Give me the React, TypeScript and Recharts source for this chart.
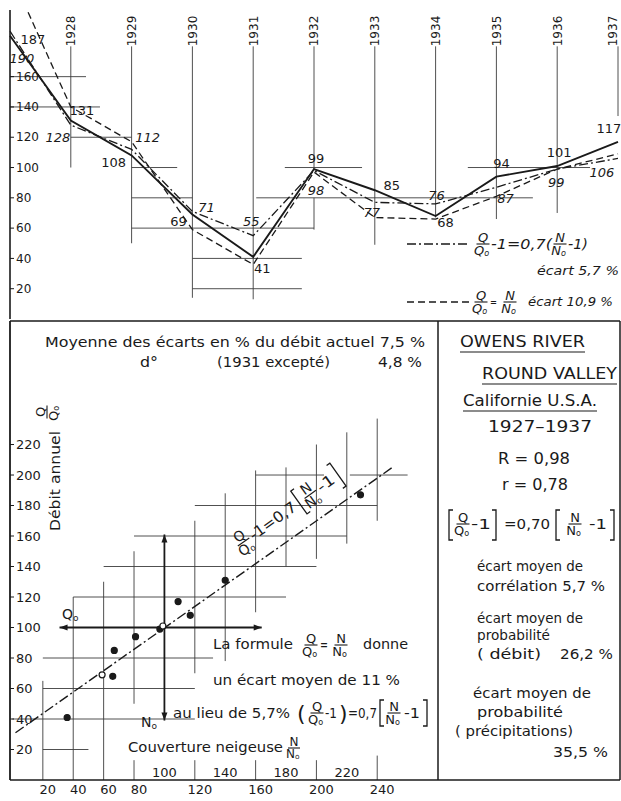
import React from "react";
import {
  LineChart,
  Line,
  XAxis,
  YAxis,
  ReferenceLine,
  LabelList,
  ComposedChart,
  Scatter,
} from "recharts";

const FONT = '"DejaVu Sans", sans-serif';
const INK = "#1a1a1a";
const GRID = "#3c3c3c";

// --- top panel: Q/Q0 (%) per year ---
const years = [1927, 1928, 1929, 1930, 1931, 1932, 1933, 1934, 1935, 1936, 1937];
const actual = [187, 131, 108, 69, 41, 99, 85, 68, 94, 101, 117];
const formula = [190, 128, 112, 71, 55, 98, 77, 76, 87, 99, 106];
const snowRatio = [229, 140, 117, 59, 36, 97, 67, 66, 81, 99, 109];
const yearTicks = [1928, 1929, 1930, 1931, 1932, 1933, 1934, 1935, 1936, 1937];
const topYTicks = [20, 40, 60, 80, 100, 120, 140, 160];

// where each value label sits relative to its point (px)
const actualLabelOffset = [
  [23, 4], [11, -10], [-18, 7], [-14, 7], [9, 11], [2, -11],
  [17, -5], [10, 6], [5, -13], [2, -14], [-9, -13],
];
const formulaLabelOffset = [
  [12, 27], [-13, 12], [16, -12], [14, -4], [-2, -14], [2, 20],
  [-3, 10], [1, -9], [9, 11], [-1, 13], [-16, 14],
];

// hand-drawn guide lines: [value, fromYear, toYear] and [year, fromValue, toValue]
const topHLines = [
  [160, 1927, 1928.25], [140, 1927, 1928.48], [120, 1928, 1929],
  [100, 1929, 1929.75], [100, 1931.52, 1932.79], [100, 1934.53, 1936.54],
  [80, 1929, 1930], [80, 1931.05, 1935.6], [60, 1929, 1932],
  [40, 1930, 1931.8], [20, 1930, 1931.8],
];
const topVLines = [
  [1928, 180, 100], [1929, 180, 50], [1930, 180, 14], [1931, 180, 13],
  [1932, 180, 99], [1932, 80, 59], [1933, 180, 49], [1934, 180, 67],
  [1935, 180, 66], [1936, 180, 70], [1937, 180, 134],
];

// --- bottom panel: Q/Q0 against N/N0 ---
const regLine = [
  { n: 2, q: 31 },
  { n: 250, q: 205 },
];
const hollowYears = [1930, 1936];
const bottomXTicks = [20, 40, 60, 80, 120, 160, 200, 240];
const innerXTicks = [100, 140, 180, 220];
const bottomYTicks = [20, 40, 60, 80, 100, 120, 140, 160, 180, 200, 220];

// [Q, fromN, toN] and [N, fromQ, toQ]
const botHLines = [
  [200, 160, 205], [200, 222, 260], [180, 120, 240], [160, 80, 220],
  [140, 60, 200], [120, 40, 180], [80, 20, 132], [60, 20, 120],
  [40, 0, 120], [20, 20, 50],
];
const botVLines = [
  [20, 0, 65], [40, 0, 120], [60, 0, 130], [80, 50, 150], [80, 0, 13],
  [120, 70, 170], [120, 0, 13], [140, 78, 188], [160, 110, 203], [160, 0, 13],
  [180, 140, 205], [200, 145, 220], [200, 0, 13], [220, 155, 228],
  [240, 170, 237], [240, 0, 16],
];
const qArrow = [100, 31, 164];
const nArrow = [100, 39, 161];

const topData = years.map((year, i) => ({
  year,
  actual: actual[i],
  formula: formula[i],
  snow: snowRatio[i],
}));
const scatterData = years.map((year, i) => ({ year, n: snowRatio[i], q: actual[i] }));

const makeLabel = (values: number[], offs: number[][], italic: boolean) => (p: any) => {
  const i = typeof p.index === "number" ? p.index : values.indexOf(Number(p.value));
  if (i < 0) return null;
  const px = p.x ?? p.viewBox?.x;
  const py = p.y ?? p.viewBox?.y;
  return (
    <text
      x={px + offs[i][0]}
      y={py + offs[i][1]}
      dy="0.36em"
      textAnchor="middle"
      fontSize={13}
      fontStyle={italic ? "italic" : "normal"}
      fill={INK}
    >
      {values[i]}
    </text>
  );
};

// rotated year labels above the columns (kept inside the page edge)
const YearTick = (p: any) => (
  <text
    transform={`translate(${Math.min(p.x, 613)},31) rotate(-90)`}
    textAnchor="middle"
    dy="0.36em"
    fontSize={12}
    fill={INK}
  >
    {p.payload.value}
  </text>
);

const arrowShape = (p: any) => {
  const { x1, y1, x2, y2 } = p;
  const a = Math.atan2(y2 - y1, x2 - x1);
  const head = (x: number, y: number, ang: number) => {
    const l = 8;
    const w = 3;
    const bx = x - l * Math.cos(ang);
    const by = y - l * Math.sin(ang);
    return `${x},${y} ${bx + w * Math.sin(ang)},${by - w * Math.cos(ang)} ${bx - w * Math.sin(ang)},${by + w * Math.cos(ang)}`;
  };
  return (
    <g>
      <line x1={x1} y1={y1} x2={x2} y2={y2} stroke={INK} strokeWidth={1.8} />
      <polygon points={head(x1, y1, a + Math.PI)} fill={INK} />
      <polygon points={head(x2, y2, a)} fill={INK} />
    </g>
  );
};

function Frac({ x, y, num, size = 14, italic = false }: { x: number; y: number; num: string; size?: number; italic?: boolean }) {
  const w = size * 0.5;
  return (
    <g fontSize={size} fontStyle={italic ? "italic" : "normal"} fill={INK} textAnchor="middle">
      <text x={x} y={y - 2.5}>{num}</text>
      <line x1={x - w} y1={y} x2={x + w} y2={y} stroke={INK} strokeWidth={1.1} />
      <text x={x - size * 0.1} y={y + size * 0.82}>
        {num}
        <tspan fontSize={size * 0.62} dy={size * 0.12}>o</tspan>
      </text>
    </g>
  );
}

function Br({ x, y, h, right = false }: { x: number; y: number; h: number; right?: boolean }) {
  const s = right ? -1 : 1;
  return (
    <path
      d={`M${x + s * 4} ${y - h} H${x} V${y + h} H${x + s * 4}`}
      fill="none"
      stroke={INK}
      strokeWidth={1.3}
    />
  );
}

function T({ x, y, w, size = 14, italic = false, children }: { x: number; y: number; w?: number; size?: number; italic?: boolean; children: React.ReactNode }) {
  return (
    <text
      x={x}
      y={y}
      fontSize={size}
      fontStyle={italic ? "italic" : "normal"}
      fill={INK}
      textLength={w}
      lengthAdjust={w ? "spacingAndGlyphs" : undefined}
    >
      {children}
    </text>
  );
}

function Overlay() {
  return (
    <svg
      width={621}
      height={801}
      style={{ position: "absolute", left: 0, top: 0, pointerEvents: "none" }}
    >
      {/* frame of the lower panel */}
      <g stroke={INK} strokeWidth={1.5}>
        <line x1={10} y1={321} x2={620} y2={321} />
        <line x1={620} y1={321} x2={620} y2={780} />
        <line x1={10} y1={780} x2={620} y2={780} />
        <line x1={438} y1={321} x2={438} y2={780} />
      </g>

      {/* legend of the upper panel */}
      <line x1={407} y1={244} x2={470} y2={244} stroke={INK} strokeWidth={1.3} strokeDasharray="9 3 2 3" />
      <Frac x={483} y={244} num="Q" size={13} italic />
      <T x={491} y={249} w={61} italic>-1=0,7(</T>
      <Frac x={560} y={244} num="N" size={13} italic />
      <T x={568} y={249} w={20} italic>-1)</T>
      <T x={537} y={275} w={82} size={12} italic>écart 5,7 %</T>
      <line x1={407} y1={302} x2={470} y2={302} stroke={INK} strokeWidth={1.3} strokeDasharray="7 4" />
      <Frac x={481} y={302} num="Q" size={13} italic />
      <T x={490} y={306} w={7} size={12} italic>=</T>
      <Frac x={510} y={302} num="N" size={13} italic />
      <T x={528} y={306} w={85} size={12} italic>écart 10,9 %</T>

      {/* lower left texts */}
      <T x={45} y={347} w={380}>Moyenne des écarts en % du débit actuel 7,5 %</T>
      <T x={140} y={367} w={18}>d°</T>
      <T x={217} y={367} w={113}>(1931 excepté)</T>
      <T x={378} y={367} w={44}>4,8 %</T>
      <g transform="translate(55,481) rotate(-90)">
        <text textAnchor="middle" dy="0.36em" fontSize={14} fill={INK} textLength={100} lengthAdjust="spacingAndGlyphs">
          Débit annuel
        </text>
      </g>
      <g transform="translate(47,412) rotate(-90)">
        <Frac x={0} y={0} num="Q" size={13} />
      </g>
      <text x={62} y={619} fontSize={14} fill={INK}>
        Q<tspan fontSize={9} dy={2}>o</tspan>
      </text>
      <text x={141} y={727} fontSize={14} fill={INK}>
        N<tspan fontSize={9} dy={2}>o</tspan>
      </text>

      <T x={213} y={649} w={80}>La formule</T>
      <Frac x={311} y={645} num="Q" size={13} />
      <T x={320} y={650} w={8}>=</T>
      <Frac x={341} y={645} num="N" size={13} />
      <T x={363} y={649} w={45}>donne</T>
      <T x={213} y={685} w={187}>un écart moyen de 11 %</T>
      <T x={173} y={718} w={117}>au lieu de 5,7%</T>
      <T x={297} y={721} size={22}>(</T>
      <Frac x={317} y={713} num="Q" size={13} />
      <T x={325} y={718} w={12}>-1</T>
      <T x={339} y={721} size={22}>)</T>
      <T x={348} y={718} w={29}>=0,7</T>
      <Br x={380} y={713} h={13} />
      <Frac x={394} y={713} num="N" size={13} />
      <T x={404} y={718} w={16}>-1</T>
      <Br x={427} y={713} h={13} right />
      <T x={128} y={752} w={155}>Couverture neigeuse</T>
      <Frac x={294} y={748} num="N" size={12} />

      {/* formula written along the regression line */}
      <g transform="translate(294,506) rotate(-35.5)">
        <Frac x={-62} y={0} num="Q" size={14} />
        <T x={-53} y={5} w={54} size={15}>-1=0,7</T>
        <Br x={6} y={0} h={14} />
        <Frac x={20} y={0} num="N" size={14} />
        <T x={30} y={5} w={18} size={15}>-1</T>
        <Br x={54} y={0} h={14} right />
      </g>

      {/* right box */}
      <T x={460} y={347} w={125} size={15}>OWENS RIVER</T>
      <line x1={460} y1={352} x2={585} y2={352} stroke={INK} strokeWidth={1.2} />
      <T x={482} y={379} w={135} size={15}>ROUND VALLEY</T>
      <line x1={482} y1={384} x2={617} y2={384} stroke={INK} strokeWidth={1.2} />
      <T x={463} y={406} w={134} size={15}>Californie U.S.A.</T>
      <line x1={463} y1={411} x2={597} y2={411} stroke={INK} strokeWidth={1.2} />
      <T x={488} y={432} w={104} size={15}>1927–1937</T>
      <T x={498} y={464} w={72} size={15}>R = 0,98</T>
      <T x={502} y={490} w={66} size={15}>r = 0,78</T>
      <Br x={449} y={525} h={15} />
      <Frac x={463} y={524} num="Q" size={13} />
      <T x={471} y={529} w={20}>-1</T>
      <Br x={496} y={525} h={15} right />
      <T x={504} y={529} w={46}>=0,70</T>
      <Br x={556} y={525} h={15} />
      <Frac x={575} y={524} num="N" size={13} />
      <T x={589} y={529} w={18}>-1</T>
      <Br x={614} y={525} h={15} right />
      <T x={477} y={571} w={106}>écart moyen de</T>
      <T x={477} y={591} w={128}>corrélation 5,7 %</T>
      <T x={477} y={623} w={106}>écart moyen de</T>
      <T x={477} y={640} w={73}>probabilité</T>
      <T x={477} y={659} w={64}>( débit)</T>
      <T x={560} y={659} w={53}>26,2 %</T>
      <T x={473} y={698} w={118}>écart moyen de</T>
      <T x={477} y={717} w={86}>probabilité</T>
      <T x={455} y={736} w={118}>( précipitations)</T>
      <T x={553} y={757} w={55}>35,5 %</T>
    </svg>
  );
}

export default function App() {
  return (
    <div
      style={{
        position: "absolute",
        left: 0,
        top: 0,
        width: 621,
        height: 801,
        background: "#fff",
        fontFamily: FONT,
        overflow: "hidden",
      }}
    >
      <div style={{ position: "absolute", left: 0, top: 0 }}>
        <LineChart width={621} height={319} data={topData} margin={{ top: 9, right: 3, left: 10, bottom: 0 }}>
          <XAxis
            dataKey="year"
            type="number"
            domain={[1927, 1937]}
            orientation="top"
            height={1}
            ticks={yearTicks}
            interval={0}
            axisLine={false}
            tickLine={false}
            tick={<YearTick />}
          />
          <YAxis
            type="number"
            domain={[0, 204]}
            allowDataOverflow
            ticks={topYTicks}
            interval={0}
            mirror
            axisLine={{ stroke: INK, strokeWidth: 1.6 }}
            tickLine={{ stroke: INK }}
            tickSize={4}
            tickMargin={2}
            tick={{ fontSize: 12, fill: INK }}
          />
          {topHLines.map(([v, a, b], i) => (
            <ReferenceLine
              key={`th${i}`}
              segment={[{ x: a, y: v }, { x: b, y: v }]}
              stroke={GRID}
              strokeWidth={0.9}
              ifOverflow="visible"
            />
          ))}
          {topVLines.map(([yr, a, b], i) => (
            <ReferenceLine
              key={`tv${i}`}
              segment={[{ x: yr, y: a }, { x: yr, y: b }]}
              stroke={GRID}
              strokeWidth={0.9}
              ifOverflow="visible"
            />
          ))}
          <Line
            dataKey="snow"
            type="linear"
            stroke={INK}
            strokeWidth={1.3}
            strokeDasharray="7 4"
            dot={false}
            isAnimationActive={false}
          />
          <Line
            dataKey="formula"
            type="linear"
            stroke={INK}
            strokeWidth={1.3}
            strokeDasharray="9 3 2 3"
            dot={false}
            isAnimationActive={false}
          >
            <LabelList dataKey="formula" content={makeLabel(formula, formulaLabelOffset, true)} />
          </Line>
          <Line
            dataKey="actual"
            type="linear"
            stroke={INK}
            strokeWidth={1.9}
            dot={false}
            isAnimationActive={false}
          >
            <LabelList dataKey="actual" content={makeLabel(actual, actualLabelOffset, false)} />
          </Line>
        </LineChart>
      </div>

      <div style={{ position: "absolute", left: 0, top: 321 }}>
        <ComposedChart width={438} height={480} margin={{ top: 0, right: 0, left: 10, bottom: 0 }}>
          <XAxis
            type="number"
            dataKey="n"
            domain={[-1.6, 280]}
            ticks={bottomXTicks}
            interval={0}
            height={21}
            axisLine={false}
            tickLine={false}
            tickSize={4}
            tickMargin={1}
            tick={{ fontSize: 13, fill: INK, dx: 5 }}
          />
          <YAxis
            type="number"
            dataKey="q"
            domain={[0, 301]}
            ticks={bottomYTicks}
            interval={0}
            mirror
            axisLine={{ stroke: INK, strokeWidth: 1.8 }}
            tickLine={{ stroke: INK }}
            tickSize={4}
            tickMargin={2}
            tick={{ fontSize: 13, fill: INK }}
          />
          {botHLines.map(([q, a, b], i) => (
            <ReferenceLine
              key={`bh${i}`}
              segment={[{ x: a, y: q }, { x: b, y: q }]}
              stroke={GRID}
              strokeWidth={0.9}
              ifOverflow="visible"
            />
          ))}
          {botVLines.map(([n, a, b], i) => (
            <ReferenceLine
              key={`bv${i}`}
              segment={[{ x: n, y: a }, { x: n, y: b }]}
              stroke={GRID}
              strokeWidth={0.9}
              ifOverflow="visible"
            />
          ))}
          {innerXTicks.map((v) => (
            <ReferenceLine
              key={`in${v}`}
              x={v}
              stroke="none"
              label={{ value: String(v), position: "insideBottom", offset: 3, fontSize: 13, fill: INK }}
            />
          ))}
          <ReferenceLine
            segment={[{ x: qArrow[1], y: qArrow[0] }, { x: qArrow[2], y: qArrow[0] }]}
            shape={arrowShape}
            ifOverflow="visible"
          />
          <ReferenceLine
            segment={[{ x: nArrow[0], y: nArrow[2] }, { x: nArrow[0], y: nArrow[1] }]}
            shape={arrowShape}
            ifOverflow="visible"
          />
          <Line
            data={regLine}
            dataKey="q"
            type="linear"
            stroke={INK}
            strokeWidth={1.4}
            strokeDasharray="10 3 2 3"
            dot={false}
            isAnimationActive={false}
          />
          <Scatter
            data={scatterData}
            isAnimationActive={false}
            shape={(p: any) => (
              <circle
                cx={p.cx}
                cy={p.cy}
                r={3}
                fill={hollowYears.includes(p.payload?.year) ? "#fff" : INK}
                stroke={INK}
                strokeWidth={1.2}
              />
            )}
          />
        </ComposedChart>
      </div>

      <Overlay />
    </div>
  );
}
